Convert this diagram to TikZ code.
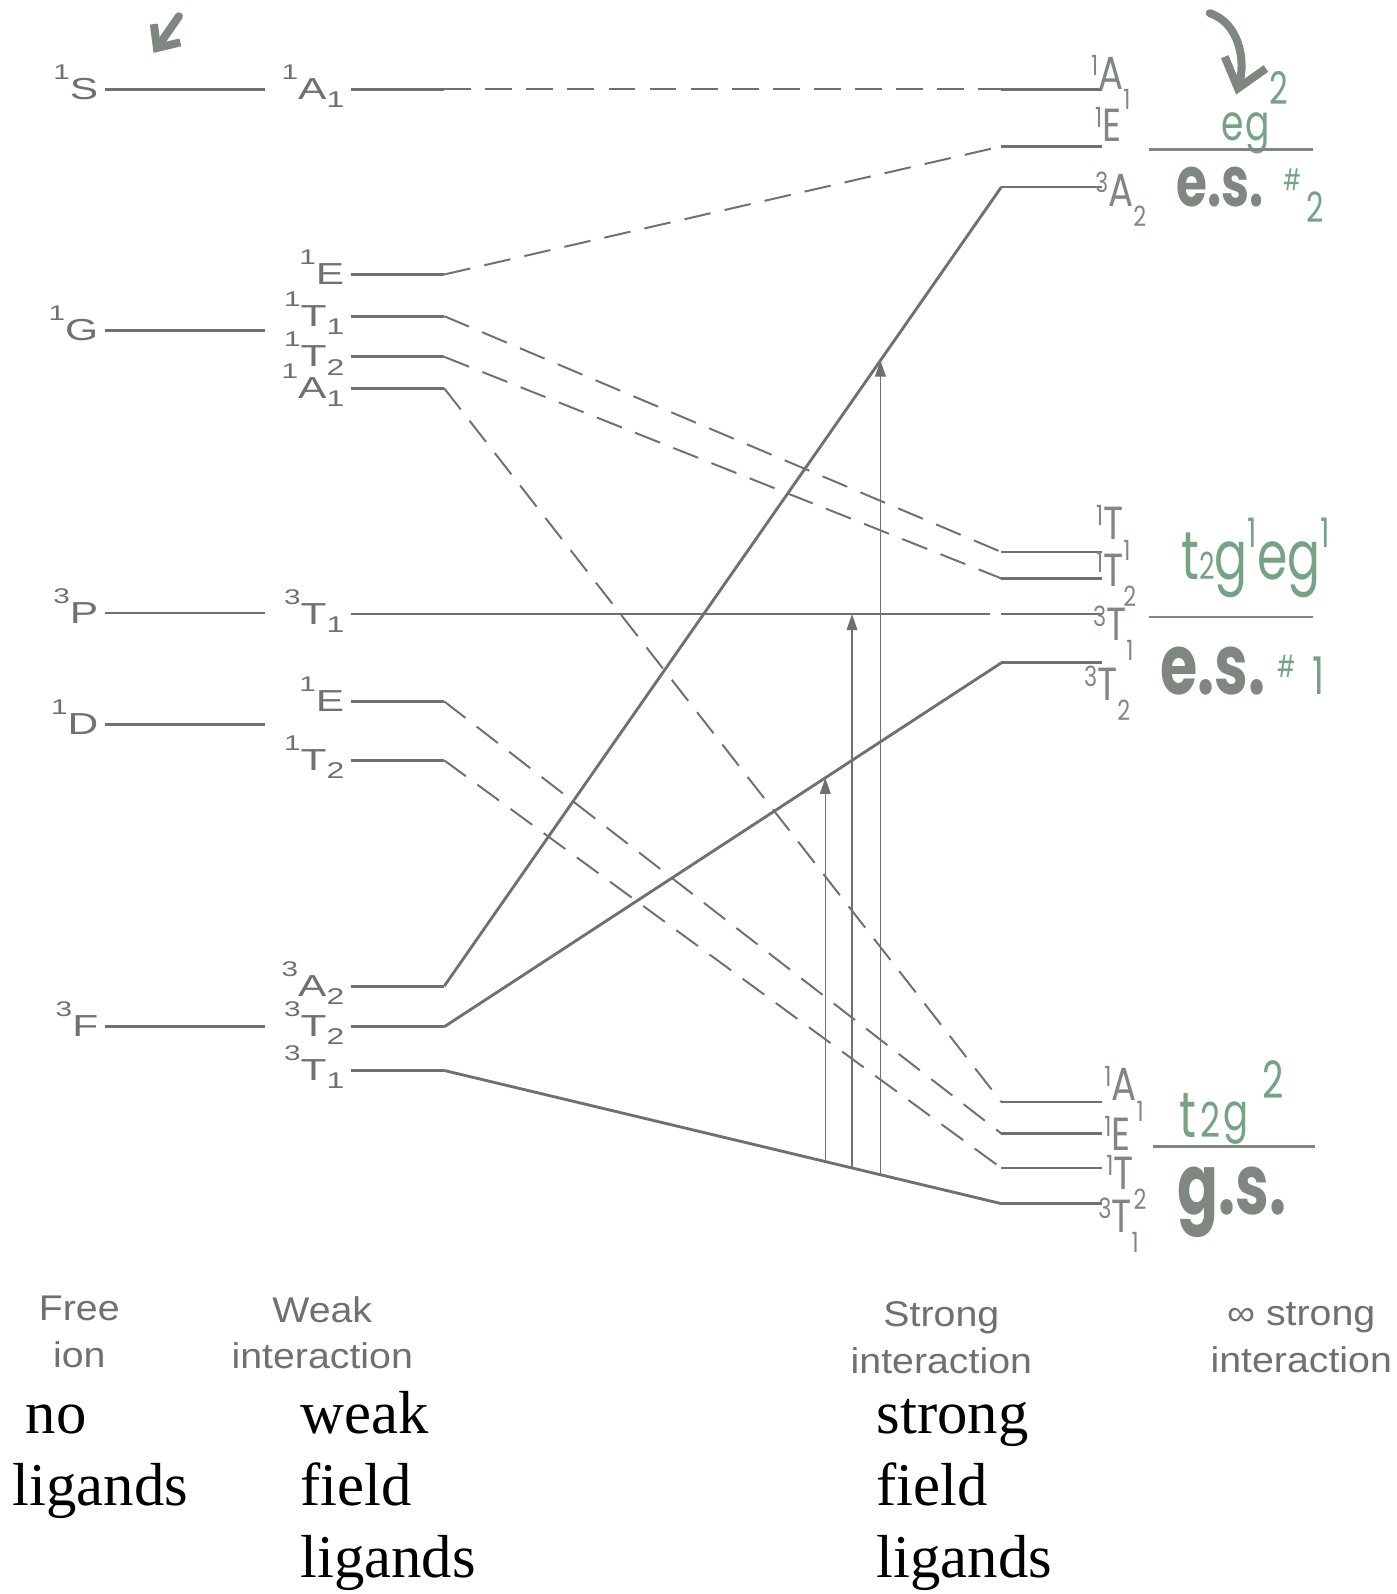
\documentclass[tikz,border=0pt]{standalone}
\usepackage{fontspec}
\setmainfont{Liberation Serif}
\newfontfamily\lblfont[FakeStretch=1.4]{Liberation Sans}
\newfontfamily\capfont[FakeStretch=1.1]{Liberation Sans}
\newfontfamily\handfont[FakeStretch=0.72]{Poppins}
\newfontfamily\handlbl[FakeStretch=0.8]{Poppins}
\usetikzlibrary{arrows.meta,calc}
\definecolor{ink}{RGB}{112,112,112}
\definecolor{pencil}{RGB}{128,135,128}
\definecolor{leaf}{RGB}{118,162,134}
% term symbol: left superscript, letter, right subscript
\newcommand{\lv}[3]{\raisebox{1.25ex}{\scalebox{.7}{#1}}#2\raisebox{-.5ex}{\scalebox{.75}{#3}}}
% same, pencilled
\newcommand{\hv}[3]{\raisebox{.55ex}{\scalebox{.6}{#1}}#2\raisebox{-.8ex}{\scalebox{.6}{#3}}}

\begin{document}
\begin{tikzpicture}[x=0.02cm,y=-0.02cm,
  lvline/.style={draw=ink,line width=1.6pt},
  link/.style={draw=ink,line width=1.1pt,dash pattern=on 15pt off 8pt},
  trans/.style={draw=ink,line width=.7pt,-{Triangle[length=9pt,width=6pt]}},
  lbl/.style={text=ink,inner sep=0pt,font=\lblfont\fontsize{17}{20}\selectfont},
  hlbl/.style={text=pencil,inner sep=0pt,font=\handlbl\fontsize{26}{28}\selectfont},
  conf/.style={text=leaf,inner sep=0pt,font=\handfont\fontsize{38}{40}\selectfont},
  stat/.style={text=pencil,inner sep=0pt,font=\handfont\bfseries\fontsize{47}{50}\selectfont},
  split/.style={draw=pencil,line width=1.5pt},
  col/.style={text=ink,align=center,font=\capfont\fontsize{20}{26}\selectfont},
  note/.style={inner sep=0pt,align=left,font=\fontsize{34}{40.5}\selectfont},
  scrawl/.style={draw=pencil,line width=4.5pt,line cap=round}
]
\fill[white] (0,0) rectangle (1374,1568);
\useasboundingbox (0,0) rectangle (1374,1568);

% Free ion terms
\foreach \n/\y/\s/\l in {fS/88/1/S, fG/325/1/G, fP/603/3/P, fD/713/1/D, fF/1010/3/F}{
  \coordinate (\n l) at (103,\y);
  \coordinate (\n r) at (261,\y);
  \draw[lvline] (\n l) -- (\n r);
  \node[lbl,anchor=base east] (\n t) at (97,\y+10) {\lv{\s}{\l}{}};
}

% Weak field levels
\foreach \n/\y/\s/\l/\k in {wA1s/88/1/A/1, wE/270/1/E/{}, wT1/311/1/T/1, wT2/351/1/T/2,
    wA1/382/1/A/1, wT1p/604/3/T/1, wEd/690/1/E/{}, wT2d/748/1/T/2,
    wA2/970/3/A/2, wT2f/1010/3/T/2, wT1f/1053/3/T/1}{
  \coordinate (\n l) at (345,\y);
  \coordinate (\n r) at (437,\y);
  \draw[lvline] (\n l) -- (\n r);
  \node[lbl,anchor=base east] (\n t) at (339,\y+10) {\lv{\s}{\l}{\k}};
}

% Strong field levels
\foreach \n/\y in {eA1/88, eE/144, eA2/184, mT1/543, mT2/569, m3T1/604, m3T2/652,
    tA1/1084, tE/1115, tT2/1149, t3T1/1184}{
  \coordinate (\n l) at (985,\y);
  \coordinate (\n r) at (1084,\y);
  \draw[lvline] (\n l) -- (\n r);
}

% Correlation lines
\draw[link] (wA1sr) -- (eA1l);
\draw[link] (wEr) -- (eEl);
\draw[link] (wT1r) -- (mT1l);
\draw[link] (wT2r) -- (mT2l);
\draw[link] (wA1r) -- (tA1l);
\draw[lvline] (wT1pr) -- ($(m3T1l)+(-11,0)$);
\draw[link] (wEdr) -- (tEl);
\draw[link] (wT2dr) -- (tT2l);
\draw[lvline] (wA2r) -- (eA2l);
\draw[lvline] (wT2fr) -- (m3T2l);
\draw[lvline] (wT1fr) -- (t3T1l);

% Spin-allowed transitions
\draw[trans] ($(wT1fr)!.684!(t3T1l)$) -- ($(wT2fr)!.684!(m3T2l)$);
\draw[trans] ($(wT1fr)!.732!(t3T1l)$) -- ($(wT1pr)!.732!(m3T1l)$);
\draw[trans] ($(wT1fr)!.783!(t3T1l)$) -- ($(wA2r)!.783!(eA2l)$);

% Strong field labels (pencilled)
\node[hlbl,anchor=base west] (eA1t) at (1073,88) {\hv{1}{A}{1}};
\node[hlbl,anchor=base west] (eEt) at (1077,139) {\hv{1}{E}{}};
\node[hlbl,anchor=base west] (eA2t) at (1077,203) {\hv{3}{A}{2}};
\node[hlbl,anchor=base west] (mT1t) at (1078,531) {\hv{1}{T}{1}};
\node[hlbl,anchor=base west] (mT2t) at (1078,577) {\hv{1}{T}{2}};
\node[hlbl,anchor=base west] (m3T1t) at (1075,630) {\hv{3}{T}{1}};
\node[hlbl,anchor=base west] (m3T2t) at (1066,689) {\hv{3}{T}{2}};
\node[hlbl,anchor=base west] (tA1t) at (1086,1083) {\hv{1}{A}{1}};
\node[hlbl,anchor=base west] (tEt) at (1086,1132) {\hv{1}{E}{}};
\node[hlbl,anchor=base west] (tT2t) at (1088,1170) {\hv{1}{T}{2}};
\node[hlbl,anchor=base west] (t3T1t) at (1080,1212) {\hv{3}{T}{1}};

% Configurations and states (green notes)
\node[conf,font=\handfont\fontsize{28}{30}\selectfont,anchor=base west] (cfgE) at (1201,138)
  {e\kern1pt g\raisebox{1.3ex}{\scalebox{.9}{2}}};
\draw[split] (1130,147) -- +(162,0);
\node[stat,font=\handfont\bfseries\fontsize{39}{42}\selectfont,anchor=base west] (es2) at (1157,203)
  {e.s.\kern11pt\textcolor{leaf}{\mdseries\raisebox{.42ex}{\scalebox{.42}{\#}}\kern3pt\raisebox{-.42ex}{\scalebox{.6}{2}}}};
\node[conf,anchor=base west] (cfgM) at (1162,570)
  {t\scalebox{.55}{2}g\raisebox{.85ex}{\scalebox{.6}{1}}eg\raisebox{.85ex}{\scalebox{.6}{1}}};
\draw[split] (1130,607) -- +(162,0);
\node[stat,anchor=base west] (es1) at (1141,683)
  {e.s.\kern7pt\textcolor{leaf}{\mdseries\raisebox{.37ex}{\scalebox{.36}{\#}}\kern9pt\scalebox{.62}{1}}};
\node[conf,font=\handfont\fontsize{36}{40}\selectfont,anchor=base west] (cfgT) at (1160,1119)
  {t\kern2pt\scalebox{.75}{2}\kern2pt\raisebox{.2ex}{\scalebox{.8}{g}}\kern8pt\raisebox{1.1ex}{\scalebox{.8}{2}}};
\draw[split] (1134,1128) -- +(160,0);
\node[stat,anchor=base west] (gs) at (1158,1195) {g.s.};

% Pen arrows
\coordinate (tlA) at (176,16);
\coordinate (tlB) at (151,52);
\draw[scrawl,-{Straight Barb[length=10pt,width=18pt]}] (tlA) -- (tlB);
\coordinate (trA) at (1190,13);
\coordinate (trB) at (1216,93);
\draw[scrawl,-{Straight Barb[length=15pt,width=24pt]}] (trA) .. controls (1218,22) and (1226,58) .. (trB);

% Column captions
\node[col] (free) at (78,1310) {Free\\ion};
\node[col] (weak) at (317,1311) {Weak\\interaction};
\node[col] (strong) at (926,1316) {Strong\\interaction};
\node[col] (infty) at (1280,1316) {∞ strong\\interaction};

% Typed notes
\node[note,anchor=base west] (noA) at (25,1410) {no};
\node[note,anchor=base west] (noB) at (12,1481) {ligands};
\node[note,anchor=base west] (wfl) at (295,1552) {weak\\field\\ligands};
\node[note,anchor=base west] (sfl) at (862,1552) {strong\\field\\ligands};
\end{tikzpicture}
\end{document}
